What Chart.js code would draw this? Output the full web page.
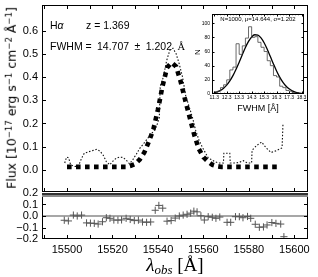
<!DOCTYPE html>
<html>
<head>
<meta charset="utf-8">
<script src="https://cdn.jsdelivr.net/npm/chart.js@4.4.0/dist/chart.umd.min.js"></script>
<style>
	body { margin: 0; background: #fff; }
	#wrap { position: relative; width: 318px; height: 277px; overflow: hidden; font-family: "Liberation Sans", Arial, sans-serif; color: #000; }
	canvas { position: absolute; }
	.txt { position: absolute; white-space: nowrap; line-height: 1; font-weight: normal; }
	.rot { transform: translate(-50%, -50%) rotate(-90deg); }
	.ctr { transform: translate(-50%, -50%); }
	sup { font-size: 0.68em; vertical-align: 0.45em; line-height: 0; }
	sub { font-size: 0.68em; vertical-align: -0.3em; line-height: 0; }
</style>
</head>
<body>
<div id="wrap">
	<canvas id="mainChart" width="318" height="192" style="left:0;top:0"></canvas>
	<canvas id="resChart" width="318" height="97" style="left:0;top:180px"></canvas>
	<canvas id="histChart" width="138" height="118" style="left:180px;top:0"></canvas>

	<div class="txt" style="left:50px;top:20px;font-size:10.5px">H<i>α</i></div>
	<div class="txt" style="left:86px;top:20px;font-size:10.5px">z = 1.369</div>
	<div class="txt" style="left:50px;top:41px;font-size:10.5px">FWHM =</div>
	<div class="txt" style="left:97px;top:41px;font-size:10.5px;word-spacing:2.5px">14.707 ± 1.202 <span style="font-family:'Liberation Serif',serif">Å</span></div>

	<div class="txt rot" style="left:12px;top:98px;font-family:'DejaVu Sans',sans-serif;font-size:12.5px">Flux [10<sup>−17</sup> erg s<sup>−1</sup> cm<sup>−2</sup> Å<sup>−1</sup>]</div>
	<div class="txt ctr" style="left:175px;top:264px;font-family:'Liberation Serif',serif;font-size:19px"><i>λ</i><sub><i>obs</i></sub> [Å]</div>

	<div class="txt ctr" style="left:258px;top:19px;font-size:6px">N=1000, μ=14.644, σ=1.202</div>
	<div class="txt rot" style="left:198px;top:52px;font-size:8px">N</div>
	<div class="txt ctr" style="left:258px;top:108px;font-size:9px">FWHM [Å]</div>
</div>
<script>
// observed spectrum (dotted)
const obsWave = [15499.0, 15499.8, 15500.7, 15501.6, 15503.2, 15505.0, 15506.4, 15507.6, 15509.4, 15511.2,
	15513.2, 15514.6, 15516.0, 15517.3, 15518.8, 15520.2, 15521.6, 15523.0, 15524.6, 15526.0,
	15527.5, 15529.0, 15530.5, 15532.0, 15533.6, 15535.2, 15537.0, 15538.6, 15539.8, 15540.6,
	15541.0, 15542.4, 15543.8, 15545.2, 15546.6, 15548.0, 15549.4, 15550.8, 15552.2, 15553.8,
	15555.2, 15556.6, 15558.0, 15559.4, 15560.8, 15562.2, 15563.6, 15565.0, 15566.8, 15568.8,
	15569.0, 15571.6, 15571.8, 15573.6, 15575.6, 15577.6, 15579.2, 15581.2, 15581.4, 15583.4,
	15585.6, 15587.6, 15589.8, 15591.8, 15594.6, 15595.0];
const obsFlux = [0.030, 0.055, 0.052, 0.022, 0.015, 0.016, 0.050, 0.072, 0.078, 0.083,
	0.089, 0.080, 0.062, 0.036, 0.022, 0.038, 0.050, 0.055, 0.054, 0.043,
	0.026, 0.045, 0.068, 0.093, 0.112, 0.132, 0.155, 0.172, 0.200, 0.225,
	0.360, 0.400, 0.470, 0.515, 0.524, 0.500, 0.455, 0.400, 0.320, 0.270,
	0.225, 0.170, 0.130, 0.100, 0.075, 0.050, 0.044, 0.036, 0.030, 0.030,
	0.072, 0.072, 0.030, 0.030, 0.032, 0.040, 0.030, 0.030, 0.085, 0.105,
	0.120, 0.095, 0.075, 0.082, 0.095, 0.200];

// gaussian model (thick squares)
const modelWave = [15500, 15502, 15504, 15506, 15508, 15510, 15512, 15514, 15516, 15518,
	15520, 15522, 15524, 15526, 15528, 15530, 15532, 15534, 15536, 15538,
	15540, 15542, 15544, 15546, 15548, 15550, 15552, 15554, 15556, 15558,
	15560, 15562, 15564, 15566, 15568, 15570, 15572, 15574, 15576, 15578,
	15580, 15582, 15584, 15586, 15588, 15590, 15592, 15594];
const modelFlux = [0.013, 0.013, 0.013, 0.013, 0.013, 0.013, 0.013, 0.013, 0.013, 0.013,
	0.013, 0.013, 0.013, 0.013, 0.018, 0.026, 0.045, 0.075, 0.122, 0.175,
	0.260, 0.360, 0.440, 0.462, 0.445, 0.380, 0.300, 0.225, 0.150, 0.090,
	0.055, 0.036, 0.022, 0.016, 0.013, 0.013, 0.013, 0.013, 0.013, 0.013,
	0.013, 0.013, 0.013, 0.013, 0.013, 0.013, 0.013, 0.013];

// residuals (lower panel)
const resWave = [15498.8, 15500.6, 15502.8, 15504.5, 15506.4, 15508.6, 15510.3, 15512.0, 15513.7, 15515.6,
	15517.3, 15518.9, 15520.6, 15522.4, 15524.0, 15526.0, 15527.8, 15529.6, 15531.4, 15533.2,
	15535.0, 15536.8, 15538.8, 15540.4, 15542.1, 15544.0, 15545.8, 15547.6, 15549.4, 15551.1,
	15552.8, 15554.4, 15555.8, 15557.2, 15558.9, 15560.4, 15562.1, 15563.9, 15565.5, 15567.2,
	15570.4, 15572.0, 15574.1, 15575.8, 15577.4, 15579.4, 15580.8, 15582.8, 15584.6, 15586.4,
	15588.0, 15590.1, 15591.9, 15594.0, 15595.4];
const resValue = [-0.037, -0.043, 0.008, 0.000, 0.008, -0.060, -0.062, -0.064, -0.070, -0.050,
	-0.015, -0.020, -0.035, -0.036, -0.034, -0.020, -0.030, -0.040, -0.036, -0.052,
	-0.055, -0.052, 0.050, 0.092, 0.068, -0.045, -0.040, -0.018, 0.000, 0.008,
	0.015, 0.025, 0.042, 0.036, 0.002, -0.035, -0.006, -0.011, -0.020, -0.009,
	-0.055, -0.055, -0.006, -0.006, -0.015, -0.004, -0.020, -0.072, -0.098, -0.095,
	-0.078, -0.057, -0.064, -0.070, -0.180];

// inset: FWHM histogram and fitted curve
const binEdges = [11.30, 11.55, 11.80, 12.05, 12.30, 12.55, 12.80, 13.05, 13.30, 13.55,
	13.80, 14.05, 14.30, 14.55, 14.80, 15.05, 15.30, 15.55, 15.80, 16.05,
	16.30, 16.55, 16.80, 17.05, 17.30, 17.55, 17.80, 18.05, 18.30];
const binCounts = [3, 3, 4, 9, 13, 20, 34, 38, 71, 56,
	68, 79, 95, 80, 81, 73, 66, 60, 47, 40,
	26, 24, 11, 9, 5, 4, 2, 1];
const fitX = binEdges;
const fitY = [1.8, 3.1, 5.1, 8.2, 12.5, 18.4, 25.9, 34.9, 45.0, 55.5,
	65.6, 74.3, 80.6, 83.7, 83.3, 79.3, 72.4, 63.2, 52.9, 42.4,
	32.5, 23.9, 16.8, 11.3, 7.3, 4.5, 2.7, 1.5, 0.8];

// tick labels
const mainYTicks = [0.0, 0.1, 0.2, 0.3, 0.4, 0.5, 0.6];
const resYTicks = [-0.2, -0.1, 0.0, 0.1, 0.2];
const waveTicks = [15500, 15520, 15540, 15560, 15580, 15600];
const waveMinor = [15490, 15500, 15510, 15520, 15530, 15540, 15550, 15560, 15570, 15580, 15590, 15600];
const histXTicks = [11.3, 12.3, 13.3, 14.3, 15.3, 16.3, 17.3, 18.3];
const histYTicks = [0, 20, 40, 60, 80, 100];

function pts(xs, ys) {
	let out = [];
	for (var i = 0; i < xs.length; i++) {
		out.push({ x: xs[i], y: ys[i] });
	}
	return out;
}

// inward ticks + frame, matplotlib style
const framePlugin = {
	id: 'frame',
	beforeDatasetsDraw(chart, args, opts) {
		const { ctx, chartArea: a } = chart;
		ctx.save();
		if (opts.bg) {
			ctx.fillStyle = opts.bg;
			ctx.fillRect(a.left, a.top, a.width, a.height);
		}
		if (opts.zeroLine) {
			const py = chart.scales.y.getPixelForValue(0);
			ctx.strokeStyle = '#8a8a8a';
			ctx.lineWidth = 1.5;
			ctx.beginPath();
			ctx.moveTo(a.left, py);
			ctx.lineTo(a.right, py);
			ctx.stroke();
		}
		ctx.restore();
	},
	afterDatasetsDraw(chart, args, opts) {
		const { ctx, chartArea: a } = chart;
		const xs = chart.scales.x;
		const ys = chart.scales.y;
		ctx.save();
		ctx.strokeStyle = '#000';
		ctx.lineWidth = 1;
		ctx.beginPath();
		const doX = (list, len) => {
			list.forEach((v) => {
				const px = Math.round(xs.getPixelForValue(v)) + 0.5;
				if (px < a.left || px > a.right) return;
				ctx.moveTo(px, a.bottom); ctx.lineTo(px, a.bottom - len);
				ctx.moveTo(px, a.top); ctx.lineTo(px, a.top + len);
			});
		};
		const doY = (list, len) => {
			list.forEach((v) => {
				const py = Math.round(ys.getPixelForValue(v)) + 0.5;
				if (py < a.top || py > a.bottom) return;
				ctx.moveTo(a.left, py); ctx.lineTo(a.left + len, py);
				ctx.moveTo(a.right, py); ctx.lineTo(a.right - len, py);
			});
		};
		doX(opts.x || [], opts.len);
		doY(opts.y || [], opts.len);
		doX(opts.xMinor || [], opts.minorLen || 0);
		doY(opts.yMinor || [], opts.minorLen || 0);
		ctx.stroke();
		ctx.lineWidth = opts.borderWidth || 1;
		ctx.strokeRect(a.left + 0.5, a.top + 0.5, a.width - 1, a.height - 1);
		if (opts.topBand) {
			ctx.lineWidth = 2;
			ctx.strokeStyle = '#333';
			ctx.beginPath();
			ctx.moveTo(a.left, a.top + 1);
			ctx.lineTo(a.right, a.top + 1);
			ctx.stroke();
			ctx.strokeStyle = '#8a8a8a';
			ctx.beginPath();
			ctx.moveTo(a.left, a.top + 3);
			ctx.lineTo(a.right, a.top + 3);
			ctx.stroke();
		}
		ctx.restore();
	}
};

Chart.defaults.font.family = '"Liberation Sans", Arial, sans-serif';
Chart.defaults.color = '#000';

const xRange = { min: 15489, max: 15606 };

// Top panel: spectrum + model
new Chart(document.getElementById('mainChart'), {
	type: 'line',
	data: {
		datasets: [
			{
				label: 'data',
				data: pts(obsWave, obsFlux),
				borderColor: '#111',
				borderWidth: 1.1,
				borderDash: [1.5, 1.8],
				pointRadius: 0,
				tension: 0
			},
			{
				label: 'model',
				data: pts(modelWave, modelFlux),
				borderColor: '#000',
				borderWidth: 4.6,
				borderDash: [4.6, 4.4],
				pointRadius: 0,
				tension: 0
			}
		]
	},
	options: {
		responsive: false,
		animation: false,
		events: [],
		layout: { padding: { top: 5, right: 10, left: 0, bottom: 0 } },
		scales: {
			x: { type: 'linear', min: xRange.min, max: xRange.max, display: false },
			y: {
				min: -0.095,
				max: 0.71,
				grid: { display: false, drawTicks: false },
				border: { display: false },
				afterBuildTicks: (s) => { s.ticks = mainYTicks.map((v) => ({ value: v })); },
				afterFit: (s) => { s.width = 42; s.paddingTop = 0; s.paddingBottom = 0; },
				ticks: { padding: 4, autoSkip: false, font: { size: 11 }, callback: (v) => v.toFixed(1) }
			}
		},
		plugins: {
			legend: { display: false },
			tooltip: { enabled: false },
			frame: { x: waveMinor, y: mainYTicks, len: 4 }
		}
	},
	plugins: [framePlugin]
});

// Bottom panel: residuals
new Chart(document.getElementById('resChart'), {
	type: 'line',
	data: {
		datasets: [
			{
				label: 'residual',
				data: pts(resWave, resValue),
				showLine: false,
				pointStyle: 'cross',
				pointRadius: 3.6,
				pointBorderWidth: 1,
				borderColor: '#555',
				backgroundColor: '#555'
			}
		]
	},
	options: {
		responsive: false,
		animation: false,
		events: [],
		layout: { padding: { top: 13, right: 10, left: 0, bottom: 0 } },
		scales: {
			x: {
				type: 'linear',
				min: xRange.min,
				max: xRange.max,
				grid: { display: false, drawTicks: false },
				border: { display: false },
				afterBuildTicks: (s) => { s.ticks = waveTicks.map((v) => ({ value: v })); },
				afterFit: (s) => { s.height = 38; s.paddingLeft = 0; s.paddingRight = 0; },
				ticks: { padding: 4, maxRotation: 0, autoSkip: false, font: { size: 11 }, callback: (v) => String(v) }
			},
			y: {
				min: -0.2,
				max: 0.2,
				grid: { display: false, drawTicks: false },
				border: { display: false },
				afterBuildTicks: (s) => { s.ticks = resYTicks.map((v) => ({ value: v })); },
				afterFit: (s) => { s.width = 42; s.paddingTop = 0; s.paddingBottom = 0; },
				ticks: { padding: 4, autoSkip: false, font: { size: 11 }, callback: (v) => v.toFixed(1).replace('-', '\u2212') }
			}
		},
		plugins: {
			legend: { display: false },
			tooltip: { enabled: false },
			frame: { x: waveMinor, y: resYTicks, len: 4, zeroLine: true, topBand: true }
		}
	},
	plugins: [framePlugin]
});

// Inset: histogram of FWHM realisations
new Chart(document.getElementById('histChart'), {
	type: 'line',
	data: {
		datasets: [
			{
				label: 'hist',
				data: [{ x: binEdges[0], y: 0 }].concat(pts(binEdges, binCounts.concat([binCounts[binCounts.length - 1]]))).concat([{ x: binEdges[binEdges.length - 1], y: 0 }]),
				stepped: 'after',
				borderColor: '#444',
				borderWidth: 0.8,
				pointRadius: 0
			},
			{
				label: 'fit',
				data: pts(fitX, fitY),
				borderColor: '#000',
				borderWidth: 1.3,
				cubicInterpolationMode: 'monotone',
				pointRadius: 0
			}
		]
	},
	options: {
		responsive: false,
		animation: false,
		events: [],
		layout: { padding: { top: 14, right: 14, left: 0, bottom: 0 } },
		scales: {
			x: {
				type: 'linear',
				min: 11.12,
				max: 18.5,
				grid: { display: false, drawTicks: false },
				border: { display: false },
				afterBuildTicks: (s) => { s.ticks = histXTicks.map((v) => ({ value: v })); },
				afterFit: (s) => { s.height = 24; s.paddingLeft = 0; s.paddingRight = 0; },
				ticks: { padding: 1, maxRotation: 0, autoSkip: false, font: { size: 5 }, callback: (v) => v.toFixed(1) }
			},
			y: {
				min: 0,
				max: 113,
				grid: { display: false, drawTicks: false },
				border: { display: false },
				afterBuildTicks: (s) => { s.ticks = histYTicks.map((v) => ({ value: v })); },
				afterFit: (s) => { s.width = 32; s.paddingTop = 0; s.paddingBottom = 0; },
				ticks: { padding: 2, autoSkip: false, font: { size: 5 }, callback: (v) => String(v) }
			}
		},
		plugins: {
			legend: { display: false },
			tooltip: { enabled: false },
			frame: { bg: '#fff', x: histXTicks, y: histYTicks, len: 2.5, xMinor: binEdges, minorLen: 1.2 }
		}
	},
	plugins: [framePlugin]
});
</script>
</body>
</html>
